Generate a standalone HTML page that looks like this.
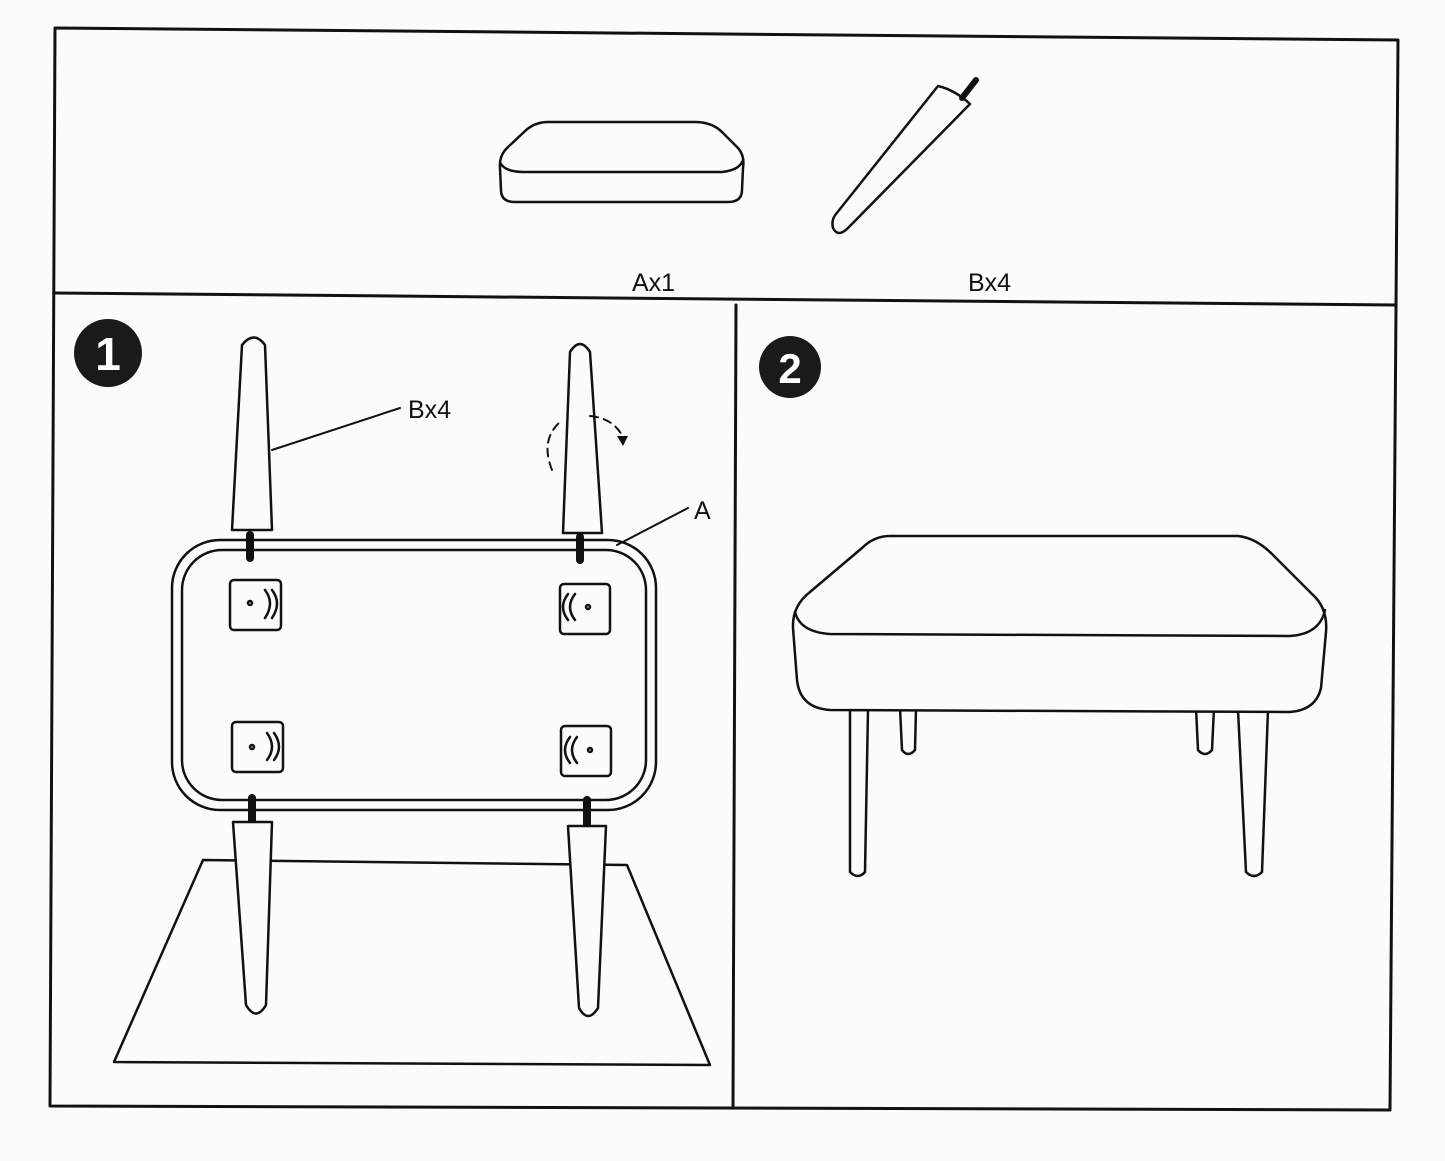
<!DOCTYPE html>
<html><head><style>body{margin:0;background:#fbfbfa}svg{display:block}</style></head><body>
<svg width="1445" height="1161" viewBox="0 0 1445 1161" xmlns="http://www.w3.org/2000/svg" fill="none" stroke="#111" stroke-linecap="round" stroke-linejoin="round">
<rect width="1445" height="1161" fill="#fbfbfa" stroke="none"/>
<!-- frame -->
<path d="M55 28 L1398 40 L1390 1110 L50 1106 Z" stroke-width="3"/>
<path d="M54 293 L1396 305" stroke-width="3"/>
<path d="M736 305 L733 1107" stroke-width="3"/>
<!-- part A -->
<path d="M548 122 L695 122 Q712 122 722 132 L738 148 Q745 156 743 168 L742 190 Q742 202 728 202 L515 202 Q501 202 501 190 L500 168 Q499 156 507 148 L524 132 Q534 122 548 122 Z" stroke-width="2.5"/>
<path d="M501 164 Q506 172 524 172 L722 172 Q740 170 743 160" stroke-width="2.5"/>
<!-- part B -->
<path d="M938 86 Q955 90 970 104 L848 228 Q838 238 833 228 Q831 220 836 214 Z" stroke-width="2.5"/>
<path d="M962 98 L976 80" stroke-width="6"/>
<text x="632" y="291" font-family="Liberation Sans, sans-serif" font-size="25" fill="#111" stroke="none">Ax1</text>
<text x="968" y="291" font-family="Liberation Sans, sans-serif" font-size="25" fill="#111" stroke="none">Bx4</text>
<!-- badges -->
<circle cx="108" cy="353" r="34" fill="#1a1a1a" stroke="none"/>
<text x="108" y="370" text-anchor="middle" font-family="Liberation Sans, sans-serif" font-weight="bold" font-size="46" fill="#fff" stroke="none">1</text>
<circle cx="790" cy="367" r="31" fill="#1a1a1a" stroke="none"/>
<text x="790" y="383" text-anchor="middle" font-family="Liberation Sans, sans-serif" font-weight="bold" font-size="42" fill="#fff" stroke="none">2</text>
<!-- floor -->
<path d="M203 860 L627 865 L710 1065 L114 1062 Z" stroke-width="2.5"/>
<!-- top legs -->
<path d="M232 530 L242 345 Q254 330 265 345 L272 530 Z" fill="#fbfbfa" stroke-width="2.5"/>
<path d="M563 533 L570 352 Q580 336 590 352 L602 533 Z" fill="#fbfbfa" stroke-width="2.5"/>
<!-- seat -->
<rect x="172" y="540" width="484" height="270" rx="48" stroke-width="2.5" fill="#fbfbfa"/>
<rect x="182" y="550" width="464" height="250" rx="40" stroke-width="2.5"/>
<!-- plates -->
<g stroke-width="2.5">
<rect x="230" y="580" width="51" height="50" rx="4"/><circle cx="250" cy="603" r="2"/><path d="M265 590 Q275 603 265 618 M272 590 Q282 603 272 618"/>
<rect x="560" y="584" width="50" height="50" rx="4"/><circle cx="588" cy="607" r="2"/><path d="M575 594 Q565 607 575 620 M568 594 Q558 607 568 620"/>
<rect x="232" y="722" width="51" height="50" rx="4"/><circle cx="252" cy="747" r="2"/><path d="M267 733 Q277 747 267 760 M274 733 Q284 747 274 760"/>
<rect x="561" y="726" width="50" height="50" rx="4"/><circle cx="590" cy="750" r="2"/><path d="M577 737 Q567 750 577 763 M570 737 Q560 750 570 763"/>
</g>
<g stroke-width="8"><path d="M250 535 L250 558"/><path d="M580 537 L580 560"/><path d="M252 798 L252 822"/><path d="M587 800 L587 824"/></g>
<!-- bottom legs -->
<path d="M233 822 L272 822 L266 1005 Q256 1022 246 1005 Z" fill="#fbfbfa" stroke-width="2.5"/>
<path d="M568 826 L606 826 L598 1008 Q588 1024 579 1008 Z" fill="#fbfbfa" stroke-width="2.5"/>
<!-- labels -->
<path d="M272 450 L400 408" stroke-width="2"/>
<text x="408" y="418" font-family="Liberation Sans, sans-serif" font-size="25" fill="#111" stroke="none">Bx4</text>
<path d="M617 545 L688 508" stroke-width="2"/>
<text x="694" y="519" font-family="Liberation Sans, sans-serif" font-size="25" fill="#111" stroke="none">A</text>
<path d="M552 470 Q540 440 560 422 M590 416 Q612 418 622 435" stroke-width="2" stroke-dasharray="8 6"/>
<path d="M617 436 L628 436 L623 446 Z" fill="#111" stroke="none"/>
<!-- ottoman -->
<path d="M850 710 L868 710 L865 872 Q858 880 850 872 Z" fill="#fbfbfa" stroke-width="2.5"/>
<path d="M1238 710 L1268 710 L1262 872 Q1254 880 1246 872 Z" fill="#fbfbfa" stroke-width="2.5"/>
<path d="M900 708 L916 708 L915 750 Q908 758 902 750 Z" fill="#fbfbfa" stroke-width="2.5"/>
<path d="M1196 708 L1214 708 L1212 750 Q1205 758 1198 750 Z" fill="#fbfbfa" stroke-width="2.5"/>
<path d="M890 536 L1238 536 Q1256 538 1272 554 L1312 594 Q1328 608 1326 632 L1321 688 Q1316 710 1290 712 L830 710 Q800 708 797 680 L793 628 Q792 606 810 592 L862 548 Q874 536 890 536 Z" fill="#fbfbfa" stroke-width="2.5"/>
<path d="M795 612 Q800 632 830 634 L1290 636 Q1320 634 1325 610" stroke-width="2.5"/>
</svg>
</body></html>
